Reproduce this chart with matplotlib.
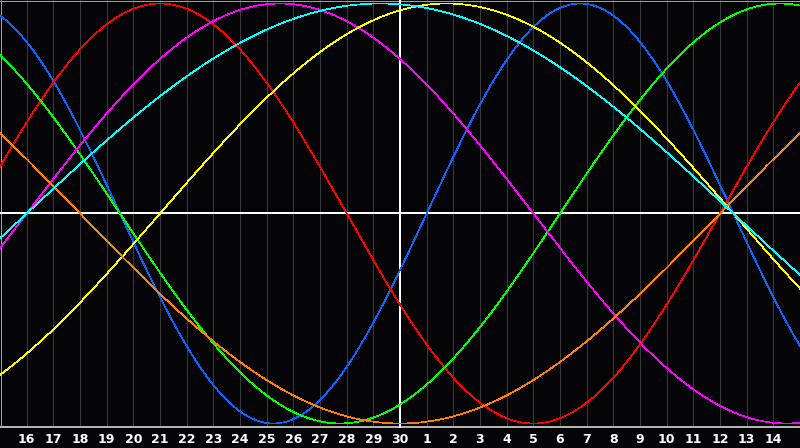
import numpy as np
import matplotlib
matplotlib.use("Agg")
import matplotlib.pyplot as plt

# Tick labels (days of month) at grid positions 1..29
day_labels = [16, 17, 18, 19, 20, 21, 22, 23, 24, 25, 26, 27, 28, 29, 30,
              1, 2, 3, 4, 5, 6, 7, 8, 9, 10, 11, 12, 13, 14]
# Cycle periods (days) and day-in-cycle at the left edge (position 0)
periods = [23, 28, 33, 38, 43, 48, 53]
start_day = [7, 1, 12, 37, 37, 21, 52]
colors = ["#0a64ff", "#ff0000", "#00ff00", "#ff00ff", "#ffff00", "#ff8000", "#00ffff"]
today_pos = 15
n_positions = 30

W, H = 800, 448
PX = 0.5
fig = plt.figure(figsize=(W / 100, H / 100), dpi=100, facecolor="#050508")
plot_h = 428
ax = fig.add_axes([0, 1 - plot_h / H, 1, plot_h / H])
ax.set_facecolor("#050508")
ax.set_xlim(0, n_positions)
amp_px = 210
center_px = 213.5
top = center_px / amp_px
bot = (plot_h - center_px) / amp_px
ax.set_ylim(-bot, top)

for s in ax.spines.values():
    s.set_visible(False)
ax.set_xticks([])
ax.set_yticks([])

# vertical grid
for i in range(1, n_positions):
    ax.axvline(i, color="#3a3a3e", lw=PX, antialiased=False, zorder=1)
# frame lines
ax.axvline(0.02, color="#a0a0a0", lw=PX, antialiased=False, zorder=1)
ax.axhline(top - 0.003, color="#a0a0a0", lw=PX, antialiased=False, zorder=1)
ax.axhline(-bot + 0.005, color="#b4b4b4", lw=1.2, antialiased=False, zorder=1)
# center / today lines
ax.axhline(0, color="#ffffff", lw=1.1, antialiased=False, zorder=2)
ax.axvline(today_pos, color="#ffffff", lw=1.1, antialiased=False, zorder=2)

x = np.linspace(0, n_positions, 2400)
for P, d0, c in zip(periods, start_day, colors):
    y = np.sin(2 * np.pi * (x + d0) / P)
    ax.plot(x, y, color=c, lw=PX, antialiased=False, zorder=3)

for i, lab in enumerate(day_labels, start=1):
    fig.text(i / n_positions, 1 - 439 / H, str(lab), color="white",
             fontsize=9, fontweight="bold", family="DejaVu Sans",
             ha="center", va="center")

fig.savefig("out.png", dpi=100, facecolor=fig.get_facecolor())
